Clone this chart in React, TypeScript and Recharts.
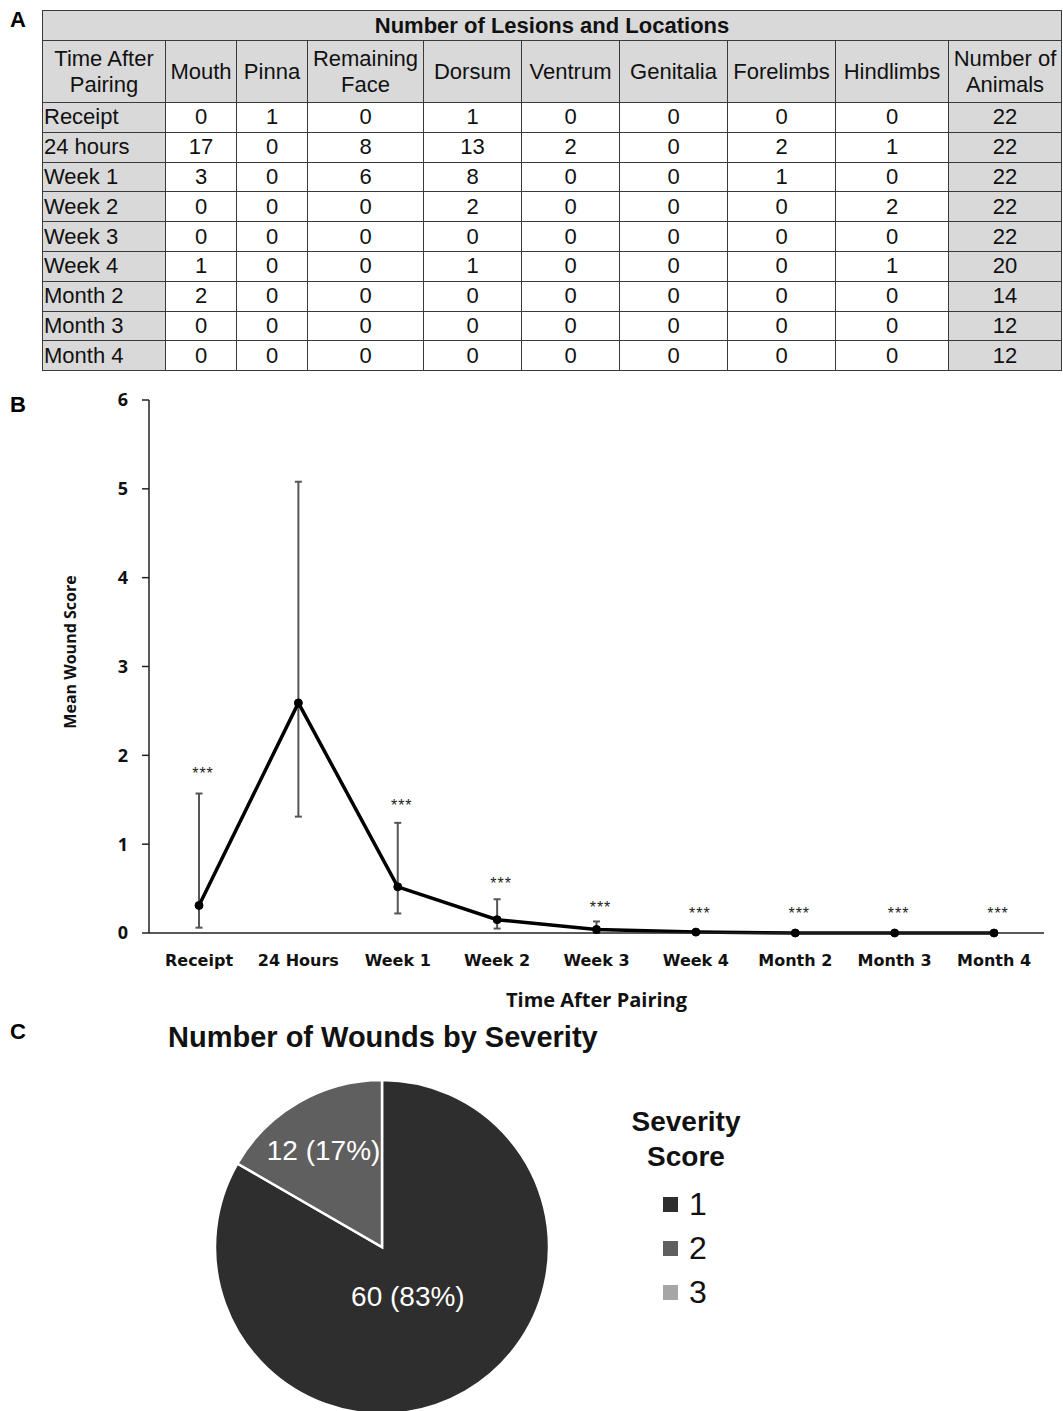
import React from 'react';
import { ComposedChart, Line, XAxis, YAxis, ErrorBar, PieChart, Pie, Cell, Legend } from 'recharts';

// ---- panel A: lesion table ----
const timePoints = ['Receipt', '24 hours', 'Week 1', 'Week 2', 'Week 3', 'Week 4', 'Month 2', 'Month 3', 'Month 4'];
const headerLabels = ['Time After\nPairing', 'Mouth', 'Pinna', 'Remaining\nFace', 'Dorsum', 'Ventrum', 'Genitalia', 'Forelimbs', 'Hindlimbs', 'Number of\nAnimals'];
const mouth = [0, 17, 3, 0, 0, 1, 2, 0, 0];
const pinna = [1, 0, 0, 0, 0, 0, 0, 0, 0];
const remainingFace = [0, 8, 6, 0, 0, 0, 0, 0, 0];
const dorsum = [1, 13, 8, 2, 0, 1, 0, 0, 0];
const ventrum = [0, 2, 0, 0, 0, 0, 0, 0, 0];
const genitalia = [0, 0, 0, 0, 0, 0, 0, 0, 0];
const forelimbs = [0, 2, 1, 0, 0, 0, 0, 0, 0];
const hindlimbs = [0, 1, 0, 2, 0, 1, 0, 0, 0];
const animals = [22, 22, 22, 22, 22, 20, 14, 12, 12];

// ---- panel B: mean wound score ----
const woundTimes = ['Receipt', '24 Hours', 'Week 1', 'Week 2', 'Week 3', 'Week 4', 'Month 2', 'Month 3', 'Month 4'];
const meanScore = [0.31, 2.59, 0.52, 0.15, 0.04, 0.01, 0, 0, 0];
const lowerBound = [0.06, 1.31, 0.22, 0.05, 0.0, 0.01, 0, 0, 0];
const upperBound = [1.57, 5.08, 1.24, 0.38, 0.13, 0.01, 0, 0, 0];
const starLevel = [1.82, null, 1.46, 0.58, 0.32, 0.25, 0.25, 0.25, 0.25];
const yTicks = [0, 1, 2, 3, 4, 5, 6];

// ---- panel C: wounds by severity ----
const severity = ['1', '2', '3'];
const woundCounts = [60, 12, 0];
const severityColors = ['#2e2e2e', '#5f5f5f', '#a6a6a6'];

const colWidths = [123, 71, 71, 116, 98, 98, 108, 108, 113, 113];
const labelRadius = [0.31, 0.7, 0.5];
const arial = '"Liberation Sans", Arial, sans-serif';
const gray = '#d9d9d9';
const border = '1px solid #3a3a3a';

const woundData = woundTimes.map((time, i) => ({
  time,
  mean: meanScore[i],
  err: upperBound[i] > meanScore[i] ? [meanScore[i] - lowerBound[i], upperBound[i] - meanScore[i]] : undefined,
  stars: starLevel[i],
}));

const pieData = severity.map((name, i) => ({ name, value: woundCounts[i] }));

function LesionTable() {
  const rows = timePoints.map((t, i) => [
    mouth[i], pinna[i], remainingFace[i], dorsum[i], ventrum[i], genitalia[i], forelimbs[i], hindlimbs[i], animals[i],
  ]);
  const td = { border, padding: 0, textAlign: 'center' as const, verticalAlign: 'middle' as const };
  return (
    <table
      style={{
        position: 'absolute', left: 42, top: 10, width: 1019, borderCollapse: 'collapse', tableLayout: 'fixed',
        fontFamily: arial, fontSize: 22, color: '#111', lineHeight: '24px',
      }}
    >
      <colgroup>
        {colWidths.map((w, i) => <col key={i} style={{ width: w }} />)}
      </colgroup>
      <tbody>
        <tr style={{ height: 30 }}>
          <td colSpan={10} style={{ ...td, background: gray, fontWeight: 'bold' }}>Number of Lesions and Locations</td>
        </tr>
        <tr style={{ height: 62 }}>
          {headerLabels.map((h, i) => (
            <td key={i} style={{ ...td, background: gray, lineHeight: '26px', whiteSpace: 'pre-line' }}>{h}</td>
          ))}
        </tr>
        {rows.map((r, i) => (
          <tr key={i} style={{ height: 29.8 }}>
            <td style={{ ...td, background: gray, textAlign: 'left', paddingLeft: 1 }}>{timePoints[i]}</td>
            {r.map((v, j) => (
              <td key={j} style={{ ...td, background: j === r.length - 1 ? gray : '#fff' }}>{v}</td>
            ))}
          </tr>
        ))}
      </tbody>
    </table>
  );
}

const renderStars = (props: any) => {
  const { cx, cy, index } = props;
  if (cy == null || isNaN(cy)) return <g key={`s${index}`} />;
  return (
    <text key={`s${index}`} x={cx + 4} y={cy + 8} textAnchor="middle" fontSize={16} letterSpacing={1} fill="#222" fontFamily={arial}>
      ***
    </text>
  );
};

function WoundChart() {
  return (
    <div style={{ position: 'absolute', left: 0, top: 380, width: 1063, height: 650 }}>
      <ComposedChart width={1063} height={650} data={woundData} margin={{ top: 20, right: 19, bottom: 17, left: 89 }}>
        <XAxis
          dataKey="time"
          interval={0}
          padding={{ left: 50, right: 50 }}
          tickLine={false}
          tickSize={8}
          tickMargin={14}
          axisLine={{ stroke: '#222', strokeWidth: 1.5 }}
          tick={{ fontFamily: '"DejaVu Sans", sans-serif', fontWeight: 'bold', fontSize: 16, fill: '#111' }}
          height={80}
          label={{
            value: 'Time After Pairing', position: 'insideBottom', offset: 6,
            style: { fontFamily: '"Open Sans", sans-serif', fontWeight: 'bold', fontSize: 20, fill: '#111' },
          }}
        />
        <YAxis
          domain={[0, 6]}
          ticks={yTicks}
          width={60}
          tickSize={7}
          tickMargin={14}
          axisLine={{ stroke: '#222', strokeWidth: 1.5 }}
          tickLine={{ stroke: '#222', strokeWidth: 1.5 }}
          tick={{ fontFamily: '"Open Sans", sans-serif', fontWeight: 'bold', fontSize: 18, fill: '#111' }}
        />
        <Line dataKey="stars" stroke="none" dot={renderStars} activeDot={false} isAnimationActive={false} legendType="none" />
        <Line
          dataKey="mean"
          stroke="#000"
          strokeWidth={3.5}
          dot={{ r: 4, fill: '#000', stroke: '#000', strokeWidth: 1 }}
          activeDot={false}
          isAnimationActive={false}
        >
          <ErrorBar dataKey="err" direction="y" width={3.5} stroke="#555" strokeWidth={2} isAnimationActive={false} />
        </Line>
      </ComposedChart>
    </div>
  );
}

const renderPieLabel = (p: any) => {
  if (!p.value) return null;
  const rad = Math.PI / 180;
  const r = p.outerRadius * labelRadius[p.index];
  const x = p.cx + r * Math.cos(-p.midAngle * rad);
  const y = p.cy + r * Math.sin(-p.midAngle * rad) + 5;
  return (
    <text key={`l${p.index}`} x={x} y={y} fill="#fff" textAnchor="middle" dominantBaseline="central" fontSize={28} fontFamily={arial}>
      {`${p.value} (${Math.round(p.percent * 100)}%)`}
    </text>
  );
};

const renderLegend = () => (
  <div style={{ fontFamily: arial, color: '#111', width: 150, textAlign: 'center' }}>
    <div style={{ fontWeight: 'bold', fontSize: 28, lineHeight: '35px' }}>
      Severity<br />Score
    </div>
    <div style={{ marginTop: 8, marginLeft: 52 }}>
      {severity.map((s, i) => (
        <div key={s} style={{ display: 'flex', alignItems: 'center', height: 44 }}>
          <span style={{ display: 'inline-block', width: 15, height: 15, background: severityColors[i], marginRight: 11 }} />
          <span style={{ fontSize: 32 }}>{s}</span>
        </div>
      ))}
    </div>
  </div>
);

function SeverityPie() {
  return (
    <div style={{ position: 'absolute', left: 0, top: 1060, width: 1063, height: 351 }}>
      <PieChart width={1063} height={351} margin={{ top: 0, right: 0, bottom: 0, left: 0 }}>
        <Pie
          data={pieData}
          dataKey="value"
          nameKey="name"
          cx={382}
          cy={187}
          outerRadius={167}
          startAngle={90}
          endAngle={-270}
          stroke="#fff"
          strokeWidth={2.5}
          label={renderPieLabel}
          labelLine={false}
          isAnimationActive={false}
        >
          {pieData.map((d, i) => <Cell key={d.name} fill={severityColors[i]} />)}
        </Pie>
        <Legend content={renderLegend} wrapperStyle={{ position: 'absolute', left: 611, top: 44, width: 150 }} />
      </PieChart>
    </div>
  );
}

const panelLetter = (letter: string, left: number, top: number) => (
  <div style={{ position: 'absolute', left, top, fontFamily: arial, fontWeight: 'bold', fontSize: 22, lineHeight: '22px' }}>
    {letter}
  </div>
);

export default function App() {
  return (
    <div style={{ position: 'absolute', left: 0, top: 0, width: 1063, height: 1411, background: '#fff', overflow: 'hidden' }}>
      {panelLetter('A', 10, 9)}
      <LesionTable />
      {panelLetter('B', 10, 394)}
      <WoundChart />
      <div
        style={{
          position: 'absolute', left: -30, top: 642, width: 200, textAlign: 'center', transform: 'rotate(-90deg)',
          fontFamily: '"Open Sans", sans-serif', fontWeight: 'bold', fontSize: 16, lineHeight: '20px', color: '#111',
        }}
      >
        Mean Wound Score
      </div>
      {panelLetter('C', 10, 1021)}
      <div
        style={{
          position: 'absolute', left: 168, top: 1020, fontFamily: arial, fontWeight: 'bold', fontSize: 29,
          lineHeight: '34px', color: '#111', whiteSpace: 'nowrap',
        }}
      >
        Number of Wounds by Severity
      </div>
      <SeverityPie />
    </div>
  );
}
